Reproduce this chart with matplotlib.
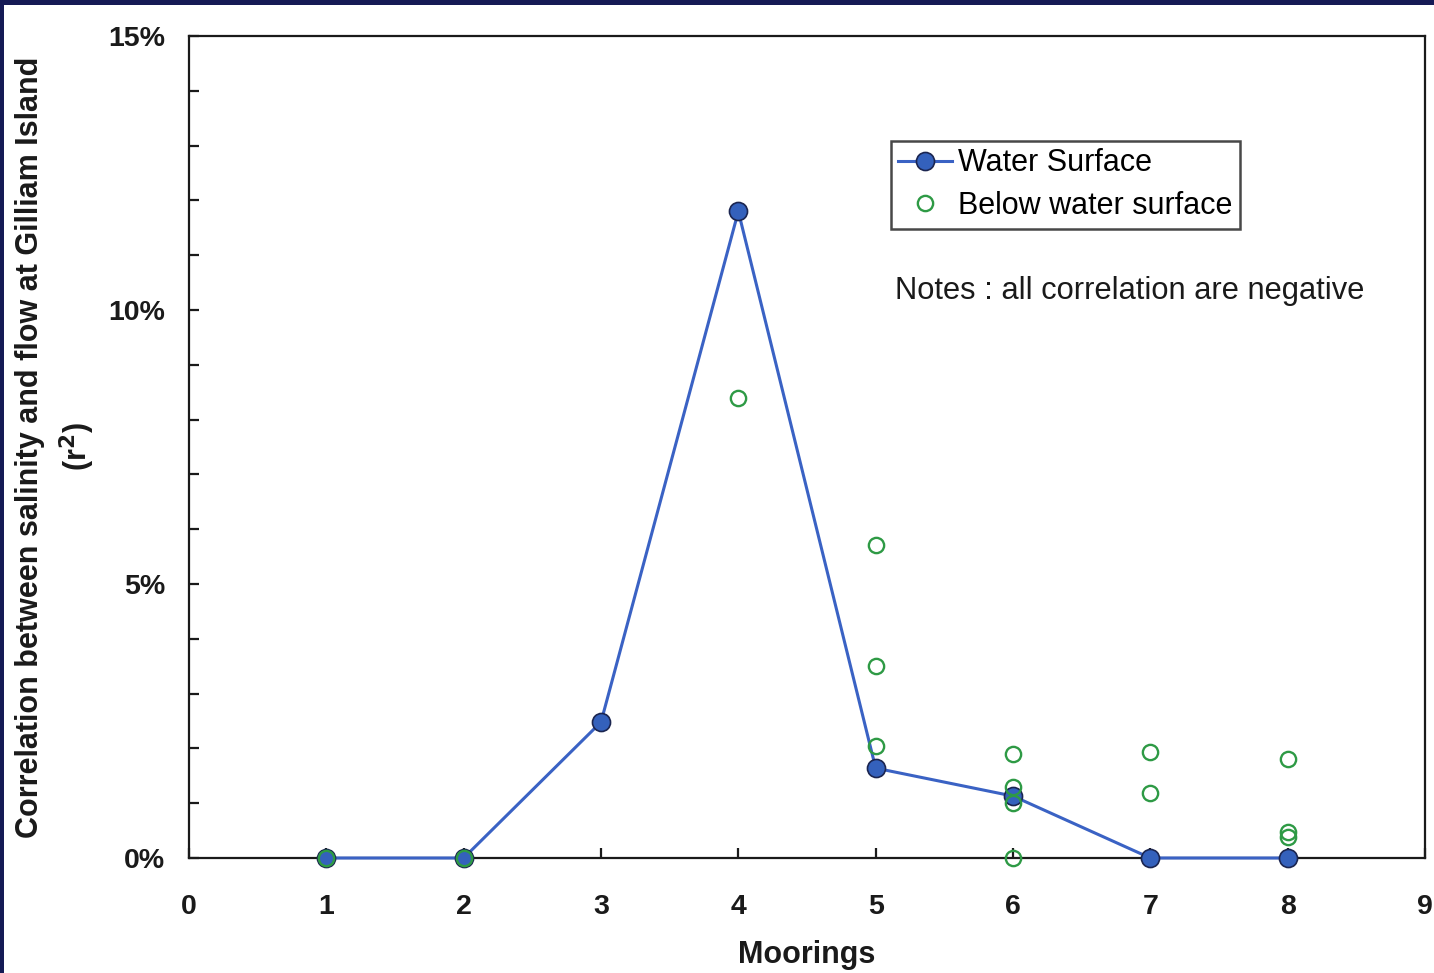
import matplotlib
matplotlib.use("Agg")
import matplotlib.pyplot as plt
from matplotlib.patches import Rectangle
from matplotlib.ticker import PercentFormatter, MultipleLocator

# Data (r^2 in percent)
moorings = [1, 2, 3, 4, 5, 6, 7, 8]
surface_r2 = [0.0, 0.0, 2.48, 11.8, 1.64, 1.13, 0.0, 0.0]

below_x = [1, 2, 4, 5, 5, 5, 6, 6, 6, 6, 7, 7, 8, 8, 8]
below_r2 = [0.0, 0.0, 8.39, 5.71, 3.50, 2.04, 1.90, 1.30, 1.00, 0.0, 1.93, 1.19, 1.81, 0.47, 0.38]

x_ticks = list(range(0, 10))
y_ticks = [0, 5, 10, 15]

W, H = 1434, 973
fig = plt.figure(figsize=(W / 100, H / 100), dpi=100)
fig.patch.set_facecolor("#151a55")
fig.patches.append(Rectangle((4 / W, 0), 1, (H - 5) / H, transform=fig.transFigure,
                             facecolor="white", edgecolor="none", zorder=-10))

font = "Liberation Sans"
plt.rcParams["font.family"] = [font, "DejaVu Sans"]

ax = fig.add_axes([189 / W, 1 - 858 / H, (1425 - 189) / W, (858 - 36) / H])
ax.set_xlim(0, 9)
ax.set_ylim(0, 15)

ax.plot(moorings, surface_r2, color="#3A62C4", lw=2.2, marker="o", markersize=13,
        markerfacecolor="#3461BC", markeredgecolor="#1b2550", markeredgewidth=1.2,
        label="Water Surface", clip_on=False, zorder=3)
ax.plot(below_x, below_r2, ls="none", marker="o", markersize=11,
        markerfacecolor="none", markeredgecolor="#2E9A45", markeredgewidth=1.7,
        label="Below water surface", clip_on=False, zorder=4)

for s in ["left", "bottom", "top", "right"]:
    ax.spines[s].set_linewidth(1.6)
    ax.spines[s].set_color("#1a1a1a")

ax.set_xticks(x_ticks)
ax.set_yticks(y_ticks)
ax.yaxis.set_minor_locator(MultipleLocator(1))
ax.yaxis.set_major_formatter(PercentFormatter(100, decimals=0))
ax.tick_params(axis="both", which="both", direction="in", length=7, width=1.6,
               top=False, right=False, colors="#1a1a1a")
ax.tick_params(axis="y", which="major", pad=17)
ax.tick_params(axis="x", which="major", pad=26)
for lab in ax.get_xticklabels() + ax.get_yticklabels():
    lab.set_fontsize(20.5)
    lab.set_fontweight("bold")
    lab.set_color("#1a1a1a")

ax.set_xlabel("Moorings", fontsize=22, fontweight="bold", labelpad=14, color="#1a1a1a")

fig.text(56 / W, 1 - 447 / H,
         "Correlation between salinity and flow at Gilliam Island\n(r$^\\mathbf{2}$)",
         rotation=90, ha="center", va="center", fontsize=22, fontweight="bold",
         linespacing=1.42, color="#1a1a1a", multialignment="center")

leg = ax.legend(loc="upper left", bbox_to_anchor=((891 - 189) / 1236, (858 - 141) / 822),
                fontsize=22, frameon=True, fancybox=False, handlelength=1.75,
                handletextpad=0.2, borderpad=0.24, labelspacing=0.42, borderaxespad=0)
leg.get_frame().set_edgecolor("#1a1a1a")
leg.get_frame().set_linewidth(1.8)

ax.text((895 - 189) / 1236, (858 - 291) / 822, "Notes : all correlation are negative",
        transform=ax.transAxes, fontsize=22.2, va="center", ha="left", color="#1a1a1a")

fig.savefig("out.png", dpi=100, facecolor=fig.get_facecolor())
